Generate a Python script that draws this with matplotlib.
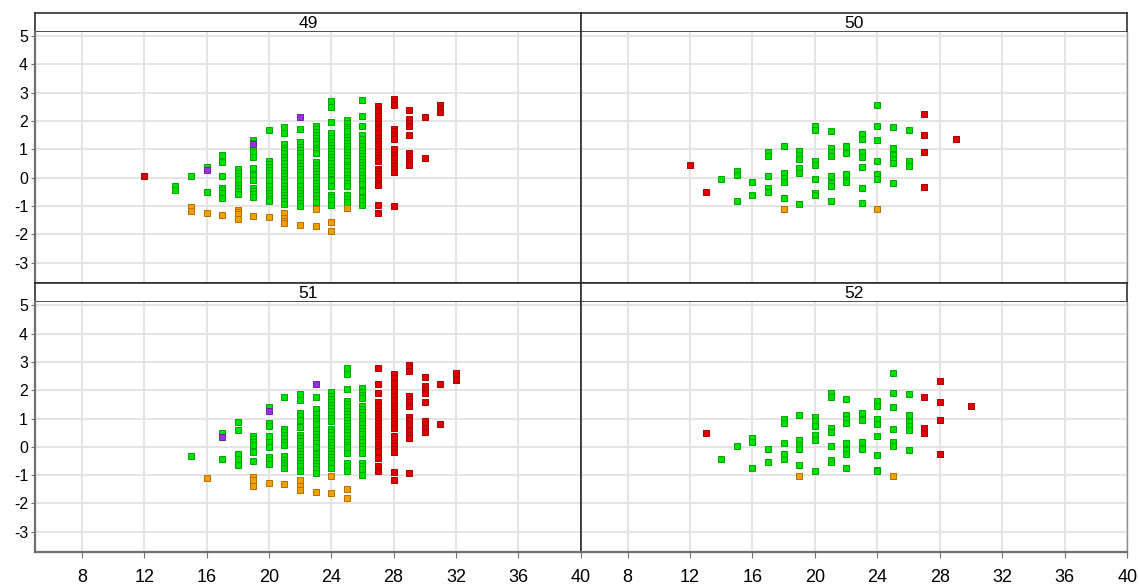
import matplotlib
matplotlib.use("Agg")
import matplotlib.pyplot as plt

plt.rcParams['font.family'] = ['Liberation Sans', 'DejaVu Sans']
plt.rcParams['axes.unicode_minus'] = False

panel_titles = ["49", "50", "51", "52"]
x_ticks = [8, 12, 16, 20, 24, 28, 32, 36, 40]
y_ticks = [-3, -2, -1, 0, 1, 2, 3, 4, 5]

# ---- panel 49 ----
p49_green = {
    14: [-0.28, -0.42], 15: [0.07], 16: [0.39, -0.5],
    17: [0.79, 0.54, 0.07, -0.36, -0.45, -0.54, -0.71],
    18: [0.3, 0.18, 0.07, -0.04, -0.25, -0.35, -0.46, -0.57],
    19: [1.33, 1.21, 1.09, 0.89, 0.74, 0.34, 0.09, -0.07, -0.36, -0.47, -0.58, -0.69],
    20: [1.69, 0.59, 0.48, 0.37, 0.26, 0.15, 0.04, -0.07, -0.31, -0.42, -0.53, -0.64, -0.74, -0.84],
    21: [1.8, 1.58, 1.17, 1.06, 0.96, 0.86, 0.74, 0.62, 0.5, 0.38, 0.27, 0.16, 0.05, -0.06,
         -0.17, -0.28, -0.39, -0.5, -0.61, -0.71, -0.82, -0.93],
    22: [1.7, 1.26, 1.09, 0.97, 0.86, 0.74, 0.52, 0.41, 0.3, 0.19, 0.08, -0.07, -0.31, -0.42,
         -0.53, -0.65, -0.77, -0.88, -1.0],
    23: [1.83, 1.72, 1.61, 1.5, 1.39, 1.28, 1.17, 1.06, 0.96, 0.86, 0.56, 0.45, 0.34, 0.23,
         0.12, 0.01, -0.1, -0.2, -0.3, -0.41, -0.52, -0.63, -0.74, -0.85],
    24: [2.72, 2.51, 1.97, 1.59, 1.41, 1.27, 1.16, 1.05, 0.94, 0.83, 0.72, 0.61, 0.5, 0.39,
         0.28, 0.17, 0.06, -0.05, -0.1, -0.3, -0.61, -0.7, -0.79, -0.95],
    25: [2.05, 1.93, 1.8, 1.7, 1.63, 1.45, 1.34, 1.23, 1.12, 1.01, 0.9, 0.79, 0.68, 0.57,
         0.46, 0.36, 0.22, 0.11, 0.0, -0.1, -0.2, -0.28, -0.61, -0.74, -0.87],
    26: [2.74, 2.17, 1.83, 1.51, 1.36, 1.21, 1.1, 0.99, 0.88, 0.77, 0.66, 0.55, 0.44, 0.33,
         0.22, 0.11, 0.0, -0.11, -0.21, -0.46, -0.71, -0.84, -0.96],
}
p49_red = {
    12: [0.07],
    27: [2.52, 2.43, 2.34, 2.19, 1.99, 1.9, 1.8, 1.7, 1.57, 1.39, 1.3, 1.2, 1.1, 1.0, 0.9,
         0.8, 0.7, 0.59, 0.32, 0.22, 0.12, 0.02, -0.08, -0.18, -0.25, -0.96, -1.25],
    28: [2.79, 2.68, 2.58, 1.73, 1.63, 1.5, 1.36, 1.0, 0.9, 0.8, 0.71, 0.52, 0.42, 0.3, 0.2, -1.0],
    29: [2.4, 2.07, 1.94, 1.81, 1.51, 0.86, 0.76, 0.65, 0.55, 0.44],
    30: [2.14, 0.71],
    31: [2.56, 2.44, 2.31],
}
p49_orange = {
    15: [-1.02, -1.18], 16: [-1.25], 17: [-1.32], 18: [-1.13, -1.21, -1.29, -1.46],
    19: [-1.36], 20: [-1.39], 21: [-1.24, -1.43, -1.52, -1.6], 22: [-1.67],
    23: [-1.11, -1.7], 24: [-1.56, -1.89], 25: [-1.07],
}
p49_purple = {16: [0.26], 19: [1.19], 22: [2.15]}

# ---- panel 50 ----
p50_green = {
    14: [-0.04], 15: [0.23, 0.08, -0.82], 16: [-0.14, -0.61],
    17: [0.91, 0.77, 0.07, -0.35, -0.51], 18: [1.1, 0.15, 0.0, -0.16, -0.71],
    19: [0.95, 0.8, 0.65, 0.34, 0.17, -0.93], 20: [1.83, 1.69, 0.59, 0.44, -0.04, -0.55, -0.62],
    21: [1.65, 1.04, 0.9, 0.76, 0.07, -0.18, -0.31, -0.82], 22: [1.12, 0.86, 0.14, -0.1, -0.16],
    23: [1.55, 1.38, 0.91, 0.74, 0.36, -0.36, -0.89], 24: [2.55, 1.83, 1.33, 0.57, 0.12, -0.04],
    25: [1.8, 1.04, 0.8, 0.65, 0.5, -0.18], 26: [1.69, 0.58, 0.41],
}
p50_red = {12: [0.44], 13: [-0.5], 27: [2.26, 1.51, 0.9, -0.32], 29: [1.37]}
p50_orange = {18: [-1.1], 24: [-1.1]}
p50_purple = {}

# ---- panel 51 ----
p51_green = {
    15: [-0.32], 17: [0.48, -0.43], 18: [0.86, 0.61, -0.27, -0.44, -0.64],
    19: [0.38, 0.27, 0.16, 0.06, -0.18, -0.5],
    20: [1.39, 0.83, 0.74, 0.39, 0.16, 0.0, -0.37, -0.48, -0.6],
    21: [1.75, 0.64, 0.53, 0.42, 0.3, 0.18, 0.07, -0.34, -0.45, -0.56, -0.66, -0.74],
    22: [1.87, 1.64, 1.21, 1.08, 0.95, 0.71, 0.41, 0.3, 0.19, 0.08, -0.03, -0.14, -0.25,
         -0.36, -0.47, -0.58, -0.69, -0.85],
    23: [1.75, 1.32, 1.15, 1.03, 0.92, 0.8, 0.58, 0.47, 0.36, 0.25, 0.13, 0.0, -0.25, -0.36,
         -0.47, -0.58, -0.69, -0.8, -0.93],
    24: [1.93, 1.81, 1.69, 1.59, 1.47, 1.36, 1.25, 1.14, 1.02, 0.91, 0.62, 0.51, 0.4, 0.29,
         0.18, 0.07, -0.04, -0.15, -0.26, -0.37, -0.48, -0.59, -0.75],
    25: [2.8, 2.58, 2.05, 1.63, 1.51, 1.39, 1.28, 1.17, 1.06, 0.95, 0.84, 0.73, 0.62, 0.51,
         0.4, 0.29, 0.18, 0.07, -0.01, -0.23, -0.57, -0.69, -0.87],
    26: [2.07, 1.95, 1.84, 1.73, 1.45, 1.34, 1.23, 1.12, 1.01, 0.9, 0.79, 0.68, 0.57, 0.46,
         0.29, 0.16, 0.04, -0.08, -0.21, -0.57, -0.67, -0.77, -1.0],
}
p51_red = {
    27: [2.8, 2.22, 1.9, 1.57, 1.45, 1.27, 1.16, 1.05, 0.94, 0.83, 0.72, 0.61, 0.5, 0.39,
         0.28, 0.17, 0.06, -0.05, -0.16, -0.39, -0.67, -0.77, -0.87],
    28: [2.56, 2.44, 2.25, 2.05, 1.92, 1.78, 1.65, 1.45, 1.34, 1.23, 1.12, 1.01, 0.9, 0.79,
         0.68, 0.38, 0.26, 0.14, 0.02, -0.08, -0.18, -0.89, -1.18],
    29: [2.88, 2.78, 2.68, 1.8, 1.68, 1.57, 1.45, 1.06, 0.93, 0.8, 0.56, 0.43, 0.3, -0.93],
    30: [2.48, 2.16, 2.02, 1.89, 1.58, 0.91, 0.8, 0.66, 0.54],
    31: [2.22, 0.8],
    32: [2.62, 2.5, 2.37],
}
p51_orange = {
    16: [-1.11], 19: [-1.07, -1.19, -1.39], 20: [-1.29], 21: [-1.32],
    22: [-1.18, -1.38, -1.53], 23: [-1.61], 24: [-1.04, -1.64], 25: [-1.5, -1.82],
}
p51_purple = {17: [0.33], 20: [1.26], 23: [2.23]}

# ---- panel 52 ----
p52_green = {
    14: [-0.43], 15: [0.04], 16: [0.3, 0.16, -0.75], 17: [-0.07, -0.54],
    18: [0.99, 0.84, 0.14, -0.27, -0.43], 19: [1.14, 0.23, 0.08, -0.07, -0.64],
    20: [1.04, 0.9, 0.73, 0.41, 0.25, -0.86], 21: [1.91, 1.77, 0.68, 0.51, 0.04, -0.48, -0.55],
    22: [1.68, 1.13, 0.98, 0.84, 0.14, -0.1, -0.24, -0.75], 23: [1.18, 0.93, 0.18, -0.07],
    24: [1.63, 1.45, 0.99, 0.8, 0.39, -0.29, -0.82, -0.86],
    25: [2.62, 1.89, 1.39, 0.64, 0.18, 0.04], 26: [1.86, 1.11, 0.86, 0.72, 0.59, -0.11],
}
p52_red = {13: [0.5], 27: [1.76, 0.65, 0.49], 28: [2.33, 1.57, 0.96, -0.25], 30: [1.44]}
p52_orange = {19: [-1.04], 25: [-1.04]}
p52_purple = {}

panels = [
    (p49_green, p49_red, p49_orange, p49_purple),
    (p50_green, p50_red, p50_orange, p50_purple),
    (p51_green, p51_red, p51_orange, p51_purple),
    (p52_green, p52_red, p52_orange, p52_purple),
]

styles = [
    ('#00E000', '#00A800'),  # green
    ('#E00000', '#B00000'),  # red
    ('#F0A000', '#B86E00'),  # orange
    ('#9A30E0', '#7020B0'),  # purple
]


def flatten(d):
    xs, ys = [], []
    for k, vals in d.items():
        for v in vals:
            xs.append(k)
            ys.append(v)
    return xs, ys


W, H = 1139, 584
fig = plt.figure(figsize=(W / 100, H / 100), dpi=100)

left = 35 / W
mid = 580.7 / W
right = 1127.3 / W
rows = [
    (13.3, 32.3, 283.3),
    (283.3, 301.7, 552.3),
]
cols = [(left, mid), (mid, right)]

axis_gray = '#707070'

for idx in range(4):
    r, c = divmod(idx, 2)
    st, pt, pb = rows[r]
    x0, x1 = cols[c]
    sax = fig.add_axes([x0, 1 - pt / H, x1 - x0, (pt - st) / H])
    sax.set_xticks([])
    sax.set_yticks([])
    sax.set_facecolor('white')
    for s in sax.spines.values():
        s.set_color('#303030')
        s.set_linewidth(1.2)
    sax.text(0.5, 0.45, panel_titles[idx], ha='center', va='center',
             fontsize=12.5, transform=sax.transAxes)

    ax = fig.add_axes([x0, 1 - pb / H, x1 - x0, (pb - pt) / H])
    ax.set_xlim(5, 40)
    ax.set_ylim(-3.73, 5.13)
    ax.set_xticks(x_ticks)
    ax.set_yticks(y_ticks)
    ax.grid(True, color='#e4e4e4', linewidth=1.4)
    ax.set_axisbelow(True)

    groups = panels[idx]
    for g, (fc, ec) in zip(groups, styles):
        xs, ys = flatten(g)
        if xs:
            ax.scatter(xs, ys, marker='s', s=21, facecolors=fc, edgecolors=ec,
                       linewidths=0.7, zorder=3)

    ax.spines['top'].set_visible(False)
    if c == 0:
        ax.spines['left'].set_color(axis_gray)
        ax.spines['left'].set_linewidth(1.6)
        ax.tick_params(axis='y', length=3, color=axis_gray, labelsize=11.5, pad=2)
        ax.spines['right'].set_color('#303030')
        ax.spines['right'].set_linewidth(1.2)
    else:
        ax.tick_params(axis='y', left=False, labelleft=False)
        ax.spines['left'].set_color('#303030')
        ax.spines['left'].set_linewidth(1.2)
        ax.spines['right'].set_color('#909090')
        ax.spines['right'].set_linewidth(1.0)
    if r == 1:
        ax.spines['bottom'].set_color(axis_gray)
        ax.spines['bottom'].set_linewidth(1.6)
        ax.tick_params(axis='x', length=4, color=axis_gray, labelsize=13, pad=8)
    else:
        ax.spines['bottom'].set_color('#303030')
        ax.spines['bottom'].set_linewidth(1.2)
        ax.tick_params(axis='x', bottom=False, labelbottom=False)

fig.savefig('out.png', dpi=100, facecolor='white')
